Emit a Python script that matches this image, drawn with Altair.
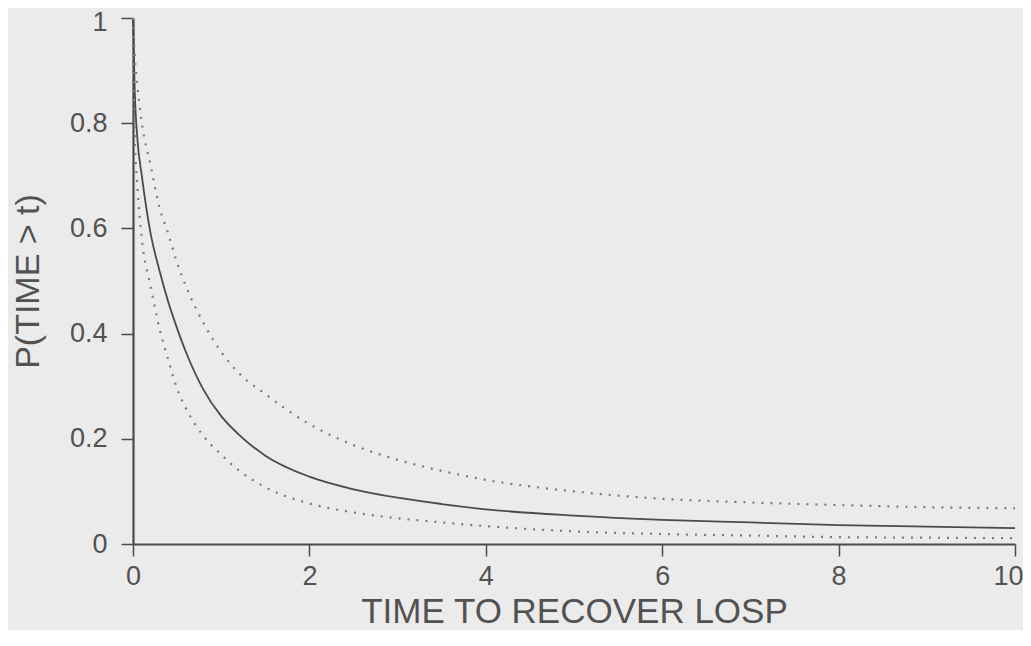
import altair as alt
import pandas as pd

# Values
t_values = [0, 0.02, 0.05, 0.1, 0.2, 0.3, 0.4, 0.5, 0.6, 0.8, 1.0, 1.2, 1.5,
            2.0, 2.5, 3.0, 3.5, 4.0, 5.0, 6.0, 7.0, 8.0, 9.0, 10.0]
median_curve = [1.0, 0.86, 0.77, 0.70, 0.59, 0.52, 0.46, 0.41, 0.365, 0.293, 0.243,
                0.208, 0.168, 0.128, 0.104, 0.088, 0.076, 0.066, 0.054, 0.046,
                0.041, 0.036, 0.033, 0.030]
upper_curve = [1.0, 0.93, 0.87, 0.80, 0.72, 0.64, 0.59, 0.535, 0.49, 0.42, 0.365,
               0.325, 0.285, 0.228, 0.188, 0.160, 0.139, 0.122, 0.100, 0.086,
               0.079, 0.074, 0.070, 0.068]
lower_curve = [1.0, 0.78, 0.68, 0.58, 0.49, 0.41, 0.35, 0.295, 0.258, 0.205, 0.17,
               0.14, 0.108, 0.077, 0.060, 0.049, 0.041, 0.034, 0.024, 0.019,
               0.016, 0.013, 0.012, 0.011]

x_ticks = [0, 2, 4, 6, 8, 10]
y_ticks = [0, 0.2, 0.4, 0.6, 0.8, 1]

rows = []
for name, vals in [("median", median_curve), ("upper", upper_curve), ("lower", lower_curve)]:
    for t, v in zip(t_values, vals):
        rows.append({"t": t, "p": v, "curve": name})
df = pd.DataFrame(rows)

FONT = "Liberation Sans"
TEXT = "#525252"
LINE = "#4a4a4a"

x_enc = alt.X(
    "t:Q",
    scale=alt.Scale(domain=[0, 10], nice=False),
    axis=alt.Axis(
        values=x_ticks, format="d", title="TIME TO RECOVER LOSP",
        titleFontSize=35, titlePadding=5, labelPadding=7,
        labelOffset={"condition": {"test": "datum.value == 10", "value": -7}, "value": 0},
        grid=False,
    ),
)
y_enc = alt.Y(
    "p:Q",
    scale=alt.Scale(domain=[0, 1], nice=False),
    axis=alt.Axis(
        values=y_ticks,
        labelExpr="datum.value == 0 ? '0' : datum.value == 1 ? '1' : format(datum.value, '.1f')",
        labelOffset={"condition": {"test": "datum.value == 1", "value": 4}, "value": 0},
        title="P(TIME > t)",
        titleFontSize=34, titlePadding=24, labelPadding=14,
        grid=False,
    ),
)

solid = alt.Chart(df).transform_filter(alt.datum.curve == "median").mark_line(
    color=LINE, strokeWidth=1.8, interpolate="monotone"
).encode(x=x_enc, y=y_enc)

dotted = alt.Chart(df).transform_filter(alt.datum.curve != "median").mark_line(
    color="#7a7a7a", strokeWidth=2.2, strokeDash=[2, 7], interpolate="monotone"
).encode(x=x_enc, y=y_enc, detail="curve:N")

chart = (
    alt.layer(solid, dotted)
    .properties(
        width=882,
        height=526,
        autosize=alt.AutoSizeParams(type="none"),
        padding={"left": 125, "top": 10, "right": 8, "bottom": 86},
        background="#ebebeb",
    )
    .configure_view(stroke=None)
    .configure_axis(
        domainColor=LINE, domainWidth=2.2,
        tickColor=LINE, tickWidth=1.5, tickSize=12,
        labelFont=FONT, labelFontSize=27, labelColor=TEXT,
        titleFont=FONT, titleColor=TEXT, titleFontWeight="normal",
        labelFlush=False, labelOverlap=False,
    )
)

chart.save("out.html", embed_options={"renderer": "svg", "actions": False})
